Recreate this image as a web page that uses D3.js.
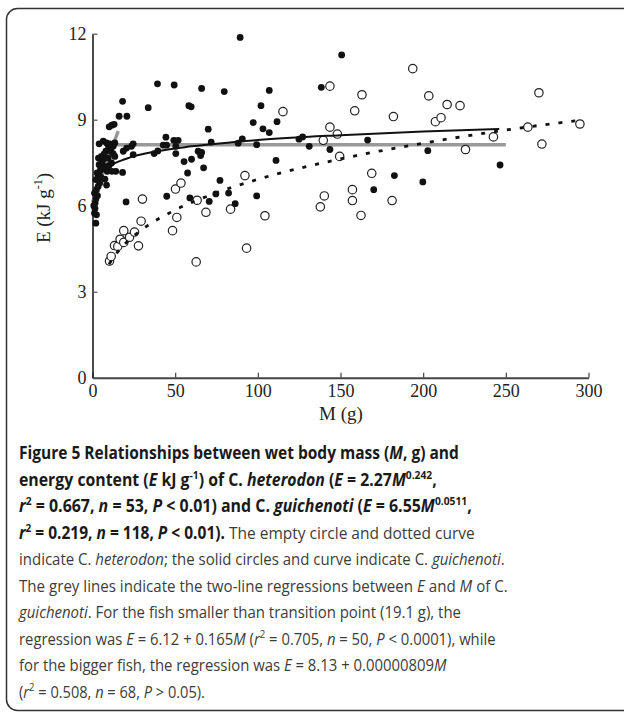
<!DOCTYPE html>
<html>
<head>
<meta charset="utf-8">
<title>Figure 5</title>
<script src="https://d3js.org/d3.v7.min.js"></script>
<style>
  body { margin: 0; background: #fff; }
  svg { display: block; }
  .cap { white-space: pre; }
</style>
</head>
<body>
<div id="chart"></div>
<script>
// C. heterodon (open circles), [M g, E kJ/g]
var heterodonPts = [
  [10.3, 4.07], [11.3, 4.23], [13.3, 4.61], [15.3, 4.58], [16.7, 4.83], [18.9, 4.72],
  [18.9, 5.13], [22.4, 4.90], [25.4, 5.08], [27.8, 4.60], [29.4, 5.46], [30.2, 6.23],
  [48.4, 5.13], [51.0, 5.59], [50.2, 6.58], [53.5, 6.79], [62.7, 4.04], [63.3, 6.19],
  [68.6, 5.77], [83.5, 5.88], [92.2, 7.05], [93.2, 4.52], [104.3, 5.65], [115.2, 9.28],
  [137.8, 5.96], [139.6, 8.28], [140.2, 6.34], [143.6, 10.17], [143.6, 8.74], [148.1, 8.50],
  [149.5, 7.72], [157.2, 6.56], [157.2, 6.18], [158.6, 9.31], [162.4, 5.66], [163.0, 9.87],
  [168.9, 7.13], [181.2, 6.18], [182.0, 9.11], [193.7, 10.78], [203.4, 9.83], [207.4, 8.93],
  [210.8, 9.07], [214.5, 9.53], [222.3, 9.49], [225.6, 7.96], [242.5, 8.40], [263.3, 8.74],
  [270.0, 9.94], [271.8, 8.15], [294.8, 8.85]
];

// C. guichenoti (solid circles)
var guichenotiPts = [
  [2.0, 5.39], [1.2, 5.74], [2.4, 5.68], [1.6, 6.09], [2.0, 6.23], [1.2, 6.44], [2.4, 6.56],
  [3.4, 6.67], [4.4, 6.79], [2.0, 6.91], [3.6, 7.02], [2.8, 7.14], [4.8, 7.26], [4.0, 7.43],
  [5.6, 7.49], [3.6, 7.66], [5.4, 7.72], [6.5, 7.61], [4.0, 8.16], [6.5, 8.25], [8.5, 8.19],
  [9.7, 8.07], [10.5, 8.16], [12.5, 8.07], [13.5, 8.19], [8.1, 7.90], [11.1, 7.90], [12.5, 7.82],
  [9.5, 7.66], [11.5, 7.49], [13.5, 7.72], [6.9, 7.37], [8.9, 7.20], [11.7, 7.20], [14.1, 7.20],
  [7.5, 6.93], [8.5, 6.72], [0.8, 6.00], [1.5, 5.90], [3.0, 6.35], [5.0, 7.00], [7.0, 7.80],
  [10.0, 7.40], [10.1, 8.75], [11.7, 8.81], [13.1, 8.84], [16.1, 9.12], [18.2, 9.64],
  [18.6, 7.90], [18.2, 7.16],
  [89.3, 11.87], [150.7, 11.26], [39.3, 10.25], [49.4, 10.21], [66.0, 10.09], [79.7, 9.98],
  [106.9, 10.02], [138.4, 10.13], [33.7, 9.42], [58.3, 9.49], [59.7, 9.45], [101.9, 9.49],
  [20.8, 9.12], [97.2, 8.90], [111.6, 8.93], [70.0, 8.67], [103.1, 8.68], [106.9, 8.55],
  [44.4, 8.39], [49.2, 8.28], [51.8, 8.28], [71.8, 8.22], [90.6, 8.33], [88.1, 8.18],
  [99.3, 8.13], [124.9, 8.32], [127.1, 8.40], [131.1, 8.07], [166.4, 8.29], [143.6, 7.96],
  [202.8, 7.92], [246.5, 7.42], [42.8, 8.11], [44.8, 8.11], [50.4, 8.07], [50.4, 7.82],
  [63.9, 7.90], [66.0, 7.86], [65.4, 7.75], [55.4, 7.54], [59.9, 7.62], [67.2, 7.32],
  [57.5, 7.14], [111.0, 7.58], [77.1, 6.88], [182.6, 7.05], [199.8, 6.83], [170.1, 6.56],
  [58.9, 6.27], [74.6, 6.41], [82.3, 6.44], [70.6, 6.15], [86.3, 6.07], [99.3, 6.34],
  [44.9, 6.33], [20.3, 6.13], [37.3, 7.82], [39.5, 7.91], [20.6, 8.01], [23.6, 8.07],
  [24.6, 8.16], [24.6, 7.78]
];

// fitted curves
var guichenotiCurve = [[2, 6.79], [5, 7.11], [10, 7.37], [20, 7.63], [40, 7.91], [60, 8.07],
  [100, 8.29], [150, 8.46], [200, 8.59], [246, 8.68]];
var heterodonCurve = [[10, 3.96], [15, 4.37], [20, 4.69], [30, 5.17], [50, 5.85], [75, 6.45],
  [100, 6.92], [150, 7.63], [200, 8.18], [250, 8.64], [293, 8.97]];
var greySmall = [[0, 6.12], [15.5, 8.60]];
var greyBig = [[12.2, 8.13], [250, 8.13]];

var xTicks = [0, 50, 100, 150, 200, 250, 300];
var yTicks = [0, 3, 6, 9, 12];

// caption: [text, style]  b=bold, bi=bold italic, bs=bold sup, r=regular, i=italic, s=sup
var captionLines = [
  [["Figure 5 Relationships between wet body mass (", "b"], ["M", "bi"], [", g) and", "b"]],
  [["energy content (", "b"], ["E", "bi"], [" kJ g", "b"], ["-1", "bs"], [") of C. ", "b"], ["heterodon", "bi"],
   [" (", "b"], ["E", "bi"], [" = 2.27", "b"], ["M", "bi"], ["0.242", "bs"], [",", "b"]],
  [["r", "bi"], ["2", "bs"], [" = 0.667, ", "b"], ["n", "bi"], [" = 53, ", "b"], ["P", "bi"],
   [" < 0.01) and C. ", "b"], ["guichenoti", "bi"], [" (", "b"], ["E", "bi"], [" = 6.55", "b"], ["M", "bi"],
   ["0.0511", "bs"], [",", "b"]],
  [["r", "bi"], ["2", "bs"], [" = 0.219, ", "b"], ["n", "bi"], [" = 118, ", "b"], ["P", "bi"], [" < 0.01).", "b"],
   [" The empty circle and dotted curve", "r"]],
  [["indicate C. ", "r"], ["heterodon", "i"], ["; the solid circles and curve indicate C. ", "r"],
   ["guichenoti", "i"], [".", "r"]],
  [["The grey lines indicate the two-line regressions between ", "r"], ["E", "i"], [" and ", "r"],
   ["M", "i"], [" of C.", "r"]],
  [["guichenoti", "i"], [". For the fish smaller than transition point (19.1 g), the", "r"]],
  [["regression was ", "r"], ["E", "i"], [" = 6.12 + 0.165", "r"], ["M", "i"], [" (", "r"], ["r", "i"],
   ["2", "s"], [" = 0.705, ", "r"], ["n", "i"], [" = 50, ", "r"], ["P", "i"], [" < 0.0001), while", "r"]],
  [["for the bigger fish, the regression was ", "r"], ["E", "i"], [" = 8.13 + 0.00000809", "r"], ["M", "i"]],
  [["(", "r"], ["r", "i"], ["2", "s"], [" = 0.508, ", "r"], ["n", "i"], [" = 68, ", "r"], ["P", "i"],
   [" > 0.05).", "r"]]
];
var captionWidths = [440, 418, 453, 456, 486, 489, 442, 477, 428, 186];

var W = 624, H = 713;
var svg = d3.select("#chart").append("svg")
  .attr("width", W)
  .attr("height", H);

// panel frame
svg.append("rect")
  .attr("x", 6.5).attr("y", 8.5)
  .attr("width", 660).attr("height", 702)
  .attr("rx", 11)
  .attr("fill", "none")
  .attr("stroke", "#333")
  .attr("stroke-width", 1.5);

var xScale = d3.scaleLinear().domain([0, 300]).range([92.5, 588.5]);
var yScale = d3.scaleLinear().domain([0, 12]).range([377.7, 33.7]);

// axes (ticks inward)
var xAxis = svg.append("g")
  .attr("transform", "translate(0," + yScale(0) + ")")
  .call(d3.axisBottom(xScale).tickValues(xTicks).tickSize(-5).tickPadding(7).tickSizeOuter(0));
xAxis.select(".domain").attr("stroke", "#444").attr("stroke-width", 2);
xAxis.selectAll(".tick line").attr("stroke", "#444").attr("stroke-width", 1.2);
xAxis.selectAll("text")
  .attr("font-family", "Liberation Serif, serif")
  .attr("font-size", 18)
  .attr("fill", "#222");

var yAxis = svg.append("g")
  .attr("transform", "translate(" + xScale(0) + ",0)")
  .call(d3.axisLeft(yScale).tickValues(yTicks).tickSize(-5).tickPadding(6).tickSizeOuter(0));
yAxis.select(".domain").attr("stroke", "#111").attr("stroke-width", 1.5);
yAxis.selectAll(".tick line").attr("stroke", "#555").attr("stroke-width", 1.2);
yAxis.selectAll("text")
  .attr("font-family", "Liberation Serif, serif")
  .attr("font-size", 18)
  .attr("fill", "#222");

// axis titles
svg.append("text")
  .attr("x", 341).attr("y", 420)
  .attr("text-anchor", "middle")
  .attr("font-family", "Liberation Serif, serif")
  .attr("font-size", 19)
  .attr("fill", "#222")
  .text("M (g)");

var yTitle = svg.append("text")
  .attr("transform", "translate(50,208) rotate(-90)")
  .attr("text-anchor", "middle")
  .attr("font-family", "Liberation Serif, serif")
  .attr("font-size", 19)
  .attr("fill", "#222");
yTitle.append("tspan").text("E (kJ g");
yTitle.append("tspan").attr("font-size", 12).attr("dy", -8).text("-1");
yTitle.append("tspan").attr("dy", 8).text(")");

var line = d3.line()
  .x(function(d) { return xScale(d[0]); })
  .y(function(d) { return yScale(d[1]); });
var smooth = d3.line()
  .x(function(d) { return xScale(d[0]); })
  .y(function(d) { return yScale(d[1]); })
  .curve(d3.curveMonotoneX);

// grey two-line regression
[greySmall, greyBig].forEach(function(seg) {
  svg.append("path")
    .attr("d", line(seg))
    .attr("fill", "none")
    .attr("stroke", "#999")
    .attr("stroke-width", 3.5);
});

// open circles
svg.append("g").selectAll("circle")
  .data(heterodonPts)
  .enter()
  .append("circle")
  .attr("cx", function(d) { return xScale(d[0]); })
  .attr("cy", function(d) { return yScale(d[1]); })
  .attr("r", 4.2)
  .attr("fill", "#fff")
  .attr("stroke", "#222")
  .attr("stroke-width", 1.2);

// dotted curve
svg.append("path")
  .attr("d", smooth(heterodonCurve))
  .attr("fill", "none")
  .attr("stroke", "#111")
  .attr("stroke-width", 2.8)
  .attr("stroke-dasharray", "4,9");

// solid circles
svg.append("g").selectAll("circle")
  .data(guichenotiPts)
  .enter()
  .append("circle")
  .attr("cx", function(d) { return xScale(d[0]); })
  .attr("cy", function(d) { return yScale(d[1]); })
  .attr("r", 3.4)
  .attr("fill", "#111");

// solid curve
svg.append("path")
  .attr("d", smooth(guichenotiCurve))
  .attr("fill", "none")
  .attr("stroke", "#111")
  .attr("stroke-width", 2);

// caption, each line squeezed horizontally to the reference width
var styles = {
  b:  { w: "bold", s: "normal", sup: false, c: "#1a1a1a" },
  bi: { w: "bold", s: "italic", sup: false, c: "#1a1a1a" },
  bs: { w: "bold", s: "normal", sup: true, c: "#1a1a1a" },
  r:  { w: "normal", s: "normal", sup: false, c: "#3c3c3c" },
  i:  { w: "normal", s: "italic", sup: false, c: "#3c3c3c" },
  s:  { w: "normal", s: "normal", sup: true, c: "#3c3c3c" }
};
captionLines.forEach(function(segs, li) {
  var g = svg.append("g");
  var t = g.append("text")
    .attr("class", "cap")
    .attr("x", 0)
    .attr("y", 0)
    .attr("font-family", "Open Sans, sans-serif")
    .attr("font-size", 17);
  var raised = false;
  segs.forEach(function(sg) {
    var st = styles[sg[1]];
    var ts = t.append("tspan")
      .attr("font-weight", st.w)
      .attr("font-style", st.s)
      .attr("fill", st.c)
      .text(sg[0]);
    if (st.sup && !raised) { ts.attr("dy", -7).attr("font-size", 11); raised = true; }
    else if (st.sup) { ts.attr("font-size", 11); }
    else if (raised) { ts.attr("dy", 7); raised = false; }
  });
  var natural = t.node().getComputedTextLength();
  var sx = captionWidths[li] / natural;
  g.attr("transform", "translate(19," + (459 + li * 26.55) + ") scale(" + sx + ",1)");
});
</script>
</body>
</html>
